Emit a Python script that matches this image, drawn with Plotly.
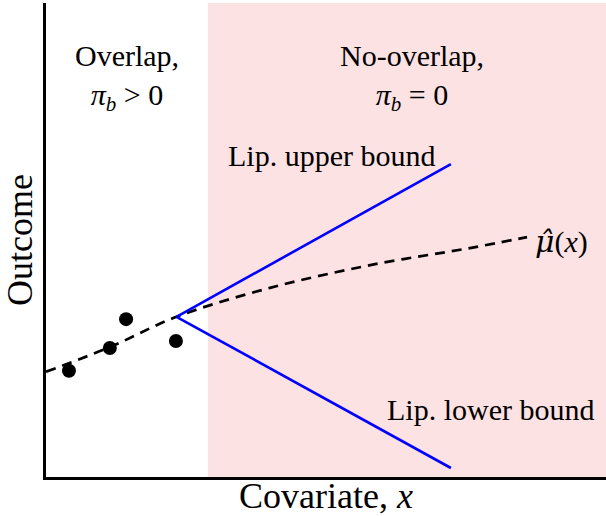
import plotly.graph_objects as go

# Observed data points (overlap region)
obs_x = [0.41, 1.14, 1.43, 2.32]
obs_y = [2.24, 2.72, 3.33, 2.87]

# Fitted regression curve mu_hat(x)
mu_x = [0.0, 1.14, 2.33, 4.0, 5.79, 7.57, 8.59]
mu_y = [2.22, 2.74, 3.38, 3.99, 4.47, 4.83, 5.06]

# Lipschitz bounds
upper_x = [2.33, 7.23]
upper_y = [3.38, 6.60]
lower_x = [2.33, 7.23]
lower_y = [3.38, 0.19]

# Region boundary
overlap_end = 2.89

FONT = "Liberation Serif"

fig = go.Figure()

fig.add_shape(type="rect", xref="x", yref="paper", x0=overlap_end, x1=10, y0=0, y1=1,
              fillcolor="rgb(253,226,227)", line=dict(width=0), layer="below")

fig.add_trace(go.Scatter(x=mu_x, y=mu_y, mode="lines",
                         line=dict(color="black", width=2.7, dash="10px,7px"),
                         line_shape="spline", showlegend=False))
fig.add_trace(go.Scatter(x=upper_x, y=upper_y, mode="lines",
                         line=dict(color="rgb(0,0,255)", width=2.6), showlegend=False))
fig.add_trace(go.Scatter(x=lower_x, y=lower_y, mode="lines",
                         line=dict(color="rgb(0,0,255)", width=2.6), showlegend=False))
fig.add_trace(go.Scatter(x=obs_x, y=obs_y, mode="markers",
                         marker=dict(color="black", size=14), showlegend=False))

ann_font = dict(family=FONT, size=30, color="black")
annotations = [
    dict(x=1.45, y=8.42, text="Overlap,<br><i>π<sub>b</sub></i> > 0"),
    dict(x=6.54, y=8.42, text="No-overlap,<br><i>π<sub>b</sub></i> = 0"),
    dict(x=5.09, y=6.79, text="Lip. upper bound"),
    dict(x=7.93, y=1.43, text="Lip. lower bound"),
    dict(x=9.2, y=4.96,
         text="<span style=\"font-family:'DejaVu Serif'\"><i>μ̂</i></span>(<i>x</i>)"),
]
for a in annotations:
    fig.add_annotation(x=a["x"], y=a["y"], text=a["text"], showarrow=False,
                       xref="x", yref="y", font=ann_font, align="center")

fig.update_layout(
    width=606, height=516,
    margin=dict(l=46, r=0, t=3, b=39, autoexpand=False),
    paper_bgcolor="white", plot_bgcolor="white",
    xaxis=dict(range=[0, 10], showgrid=False, zeroline=False, showticklabels=False,
               ticks="", showline=True, linecolor="black", linewidth=2.5, automargin=False,
               title=dict(text="Covariate, <i>x</i>", font=dict(family=FONT, size=36, color="black"),
                          standoff=8)),
    yaxis=dict(range=[0, 10], showgrid=False, zeroline=False, showticklabels=False,
               ticks="", showline=True, linecolor="black", linewidth=2.5, automargin=False,
               title=dict(text="Outcome", font=dict(family=FONT, size=36, color="black"),
                          standoff=2)),
)

fig.write_html("out.html", config={"displayModeBar": False},
               post_script="document.body.style.margin='0';")
